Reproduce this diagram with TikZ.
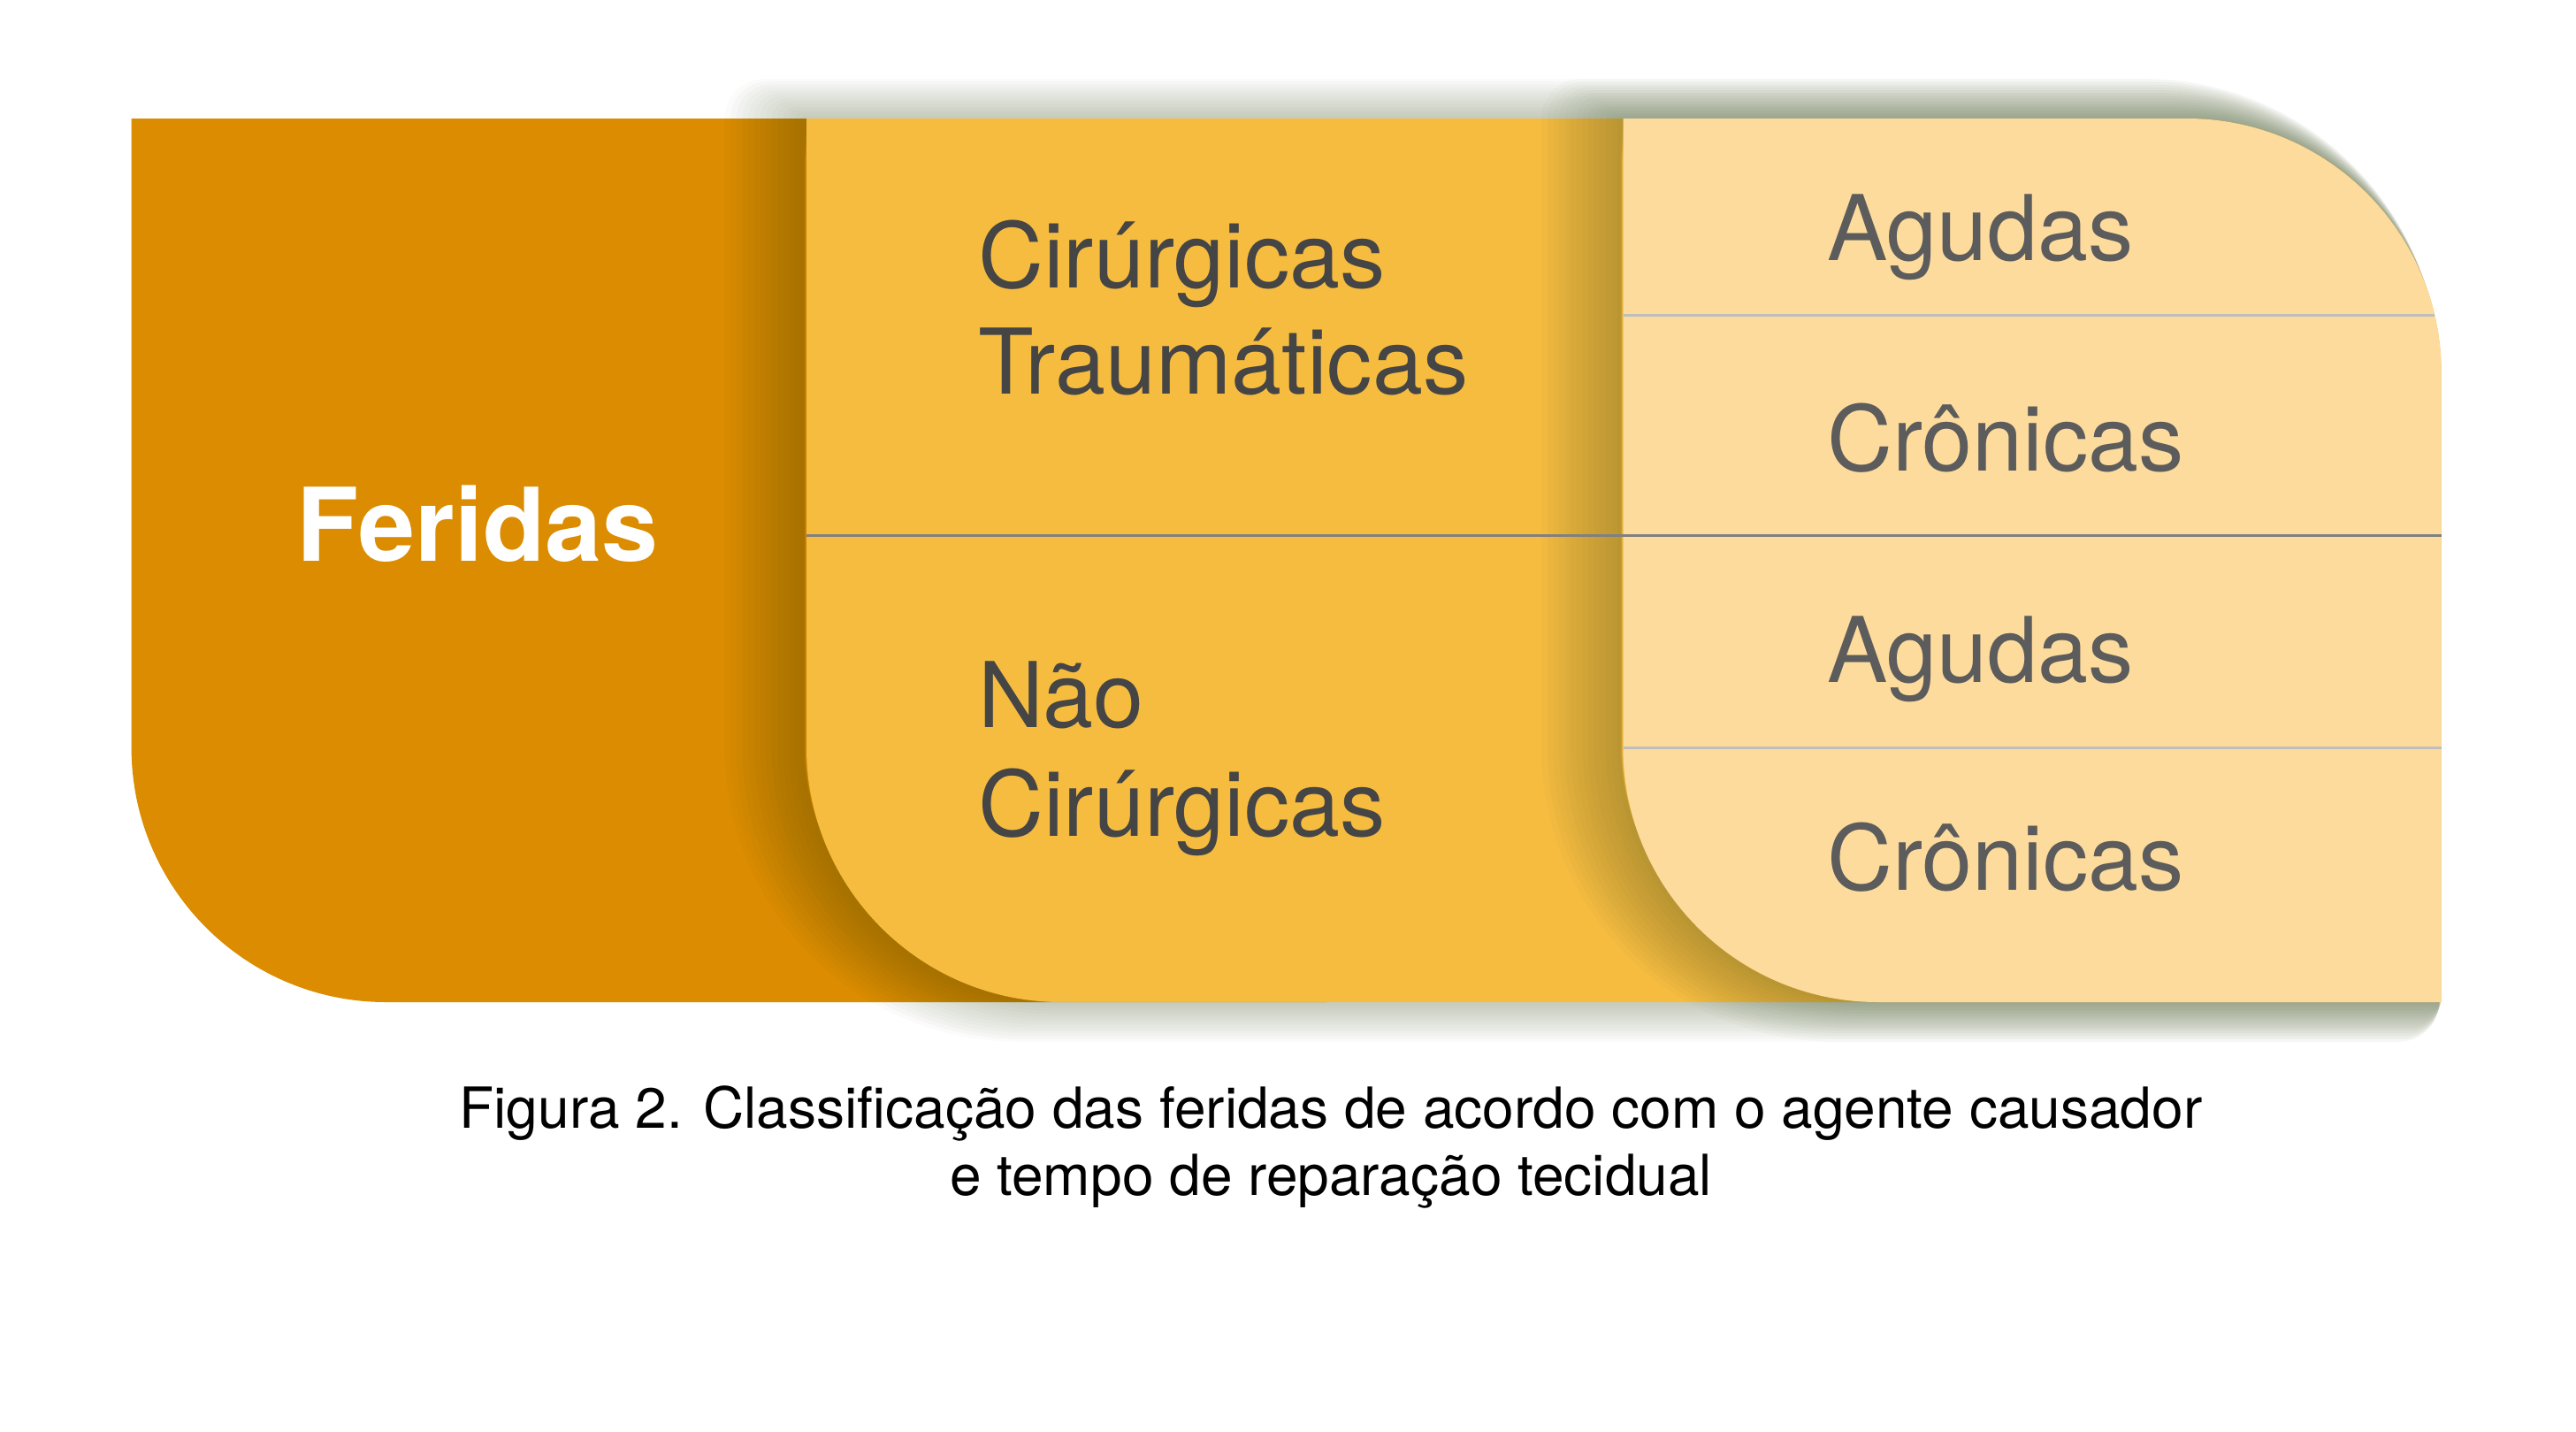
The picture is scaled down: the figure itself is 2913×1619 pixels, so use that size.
\documentclass[tikz,border=0pt]{standalone}
\usepackage{fontspec}
\setmainfont{TeX Gyre Heros}
\definecolor{darkor}{HTML}{DB8C00}
\definecolor{midor}{HTML}{F6BC40}
\definecolor{lightor}{HTML}{FDDB9C}
\definecolor{shadowcol}{RGB}{55,75,25}
\definecolor{txtA}{HTML}{454545}
\definecolor{txtB}{HTML}{5C5C5C}
\definecolor{lineA}{HTML}{808080}
\definecolor{lineB}{HTML}{BEBEBE}
\begin{document}
\begin{tikzpicture}[x=1pt,y=-1pt,
  lbl/.style={anchor=base west, inner sep=0pt, font=\fontsize{102.5}{123}\selectfont, text=txtA},
  lblr/.style={lbl, text=txtB},
  capt/.style={anchor=base, inner sep=0pt, font=\fontsize{64}{77}\selectfont, text=black},
  shadowlayer/.style={draw=shadowcol, opacity=0.025, line join=round}]
\useasboundingbox (0,0) rectangle (2913,1619);
\def\darkpath{(148.6,134) -- (1500,134) -- (1500,1133) -- (436.6,1133) arc[start angle=90,end angle=180,radius=288] -- cycle}
\def\midpath{(912,134) -- (2472.7,134) arc[start angle=-90,end angle=0,radius=288] -- (2760.7,1133) -- (1200,1133) arc[start angle=90,end angle=180,radius=288] -- cycle}
\def\rightpath{(1835.5,134) -- (2472.7,134) arc[start angle=-90,end angle=0,radius=288] -- (2760.7,1133) -- (2123.5,1133) arc[start angle=90,end angle=180,radius=288] -- cycle}
% dark block
\fill[darkor] \darkpath;
% shadow of middle block
\foreach \k [evaluate=\k as \w using \k*6.4, evaluate=\k as \s using -\k*3.4] in {1,...,14}{
  \path[shadowlayer, line width=\w pt, xshift=\s pt] \midpath;
}
\fill[midor] \midpath;
% shadow of right block
\foreach \k [evaluate=\k as \w using \k*6.4, evaluate=\k as \s using -\k*3.4] in {1,...,14}{
  \path[shadowlayer, line width=\w pt, xshift=\s pt] \rightpath;
}
\fill[lightor] \rightpath;
% dividers
\coordinate (m1) at (912,605.6);
\coordinate (m2) at (2760.7,605.6);
\coordinate (r1) at (1835.5,356.7);
\coordinate (r2) at (2753,356.7);
\coordinate (r3) at (1835.5,845);
\coordinate (r4) at (2760.7,845);
\draw[lineB, line width=3pt] (r1) -- (r2);
\draw[lineB, line width=3pt] (r3) -- (r4);
\draw[lineA, line width=3pt] (m1) -- (m2);
% texts
\node[anchor=base, inner sep=0pt, font=\bfseries\fontsize{115}{132}\selectfont, text=white] (feridas) at (540,634) {Feridas};
\node[lbl] (cir1) at (1106,325) {Cirúrgicas};
\node[lbl] (trau) at (1106,445) {Traumáticas};
\node[lbl] (nao) at (1106,822) {Não};
\node[lbl] (cir2) at (1106,945) {Cirúrgicas};
\node[lblr] (ag1) at (2066,294) {Agudas};
\node[lblr] (cr1) at (2066,532) {Crônicas};
\node[lblr] (ag2) at (2066,771) {Agudas};
\node[lblr] (cr2) at (2066,1006) {Crônicas};
\node[capt] (cap1) at (1505,1275) {Figura 2. Classificação das feridas de acordo com o agente causador};
\node[capt] (cap2) at (1505,1351) {e tempo de reparação tecidual};
\end{tikzpicture}
\end{document}
